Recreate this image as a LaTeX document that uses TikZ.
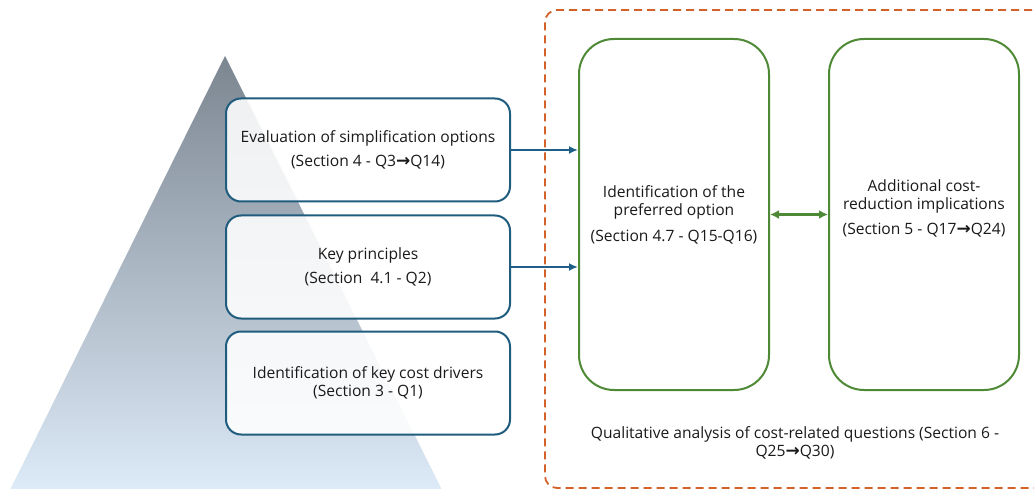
\documentclass[tikz,border=0pt]{standalone}
\usepackage{fontspec}
\setmainfont{Open Sans}
\newfontfamily\arrfont{DejaVu Sans}
\usetikzlibrary{arrows.meta}
\definecolor{boxblue}{HTML}{1F5C7E}
\definecolor{arrblue}{HTML}{1F5F87}
\definecolor{grn}{HTML}{4E8A35}
\definecolor{orng}{HTML}{D2622A}
\definecolor{tritop}{HTML}{7B8691}
\definecolor{tribot}{HTML}{DDEAF7}
\definecolor{txt}{HTML}{1A1A1A}
\newcommand{\rarr}{{\arrfont\bfseries\fontsize{17}{17}\selectfont →}}
\tikzset{
  lbox/.style={draw=boxblue, line width=2pt, rounded corners=15pt, fill=white, fill opacity=0.88, text opacity=1,
    minimum width=284pt, minimum height=103pt, align=center, text=txt, font=\fontsize{15.6}{18}\selectfont},
  gbox/.style={draw=grn, line width=2pt, rounded corners=35pt, fill=white, minimum width=190pt, minimum height=351pt},
  txtnode/.style={align=center, text=txt, font=\fontsize{15.6}{18}\selectfont, inner sep=0pt},
  dbox/.style={draw=orng, line width=1.8pt, dash pattern=on 8pt off 5pt, rounded corners=12pt,
    minimum width=525pt, minimum height=478pt},
  barr/.style={draw=arrblue, line width=2pt, -{Latex[length=9pt,width=8pt]}},
  garr/.style={draw=grn, line width=2.4pt, {Latex[length=9pt,width=9pt]}-{Latex[length=9pt,width=9pt]}}
}
\begin{document}
\begin{tikzpicture}[x=1pt,y=-1pt]
\useasboundingbox (0,0) rectangle (1034,489);
\begin{scope}
\clip (0,0) rectangle (1034,489);
\shade[top color=tritop, bottom color=tribot] (225,56) -- (442,490) -- (10,490) -- cycle;
\node[dbox] (frame) at (807.5,249) {};
\end{scope}
\node[lbox] (b1) at (368,150) {Evaluation of simplification options\\[6pt](Section 4 - Q3\rarr Q14)};
\node[lbox] (b2) at (368,267) {Key principles\\[6pt](Section~~4.1 - Q2)};
\node[lbox] (b3) at (368,383) {Identification of key cost drivers\\(Section 3 - Q1)};
\node[gbox] (g1) at (674,214.5) {};
\node[gbox] (g2) at (924,214.5) {};
\node[txtnode] (g1t) at (674,215) {Identification of the\\preferred option\\[8pt](Section 4.7 - Q15-Q16)};
\node[txtnode] (g2t) at (924,208.5) {Additional cost-\\reduction implications\\[7pt](Section 5 - Q17\rarr Q24)};
\node[txtnode] (qlab) at (795,443) {Qualitative analysis of cost-related questions (Section 6 -\\Q25\rarr Q30)};
\draw[barr] (b1.east) -- (b1.east -| g1.west);
\draw[barr] (b2.east) -- (b2.east -| g1.west);
\draw[garr] (g1.east) -- (g2.west);
\end{tikzpicture}
\end{document}
